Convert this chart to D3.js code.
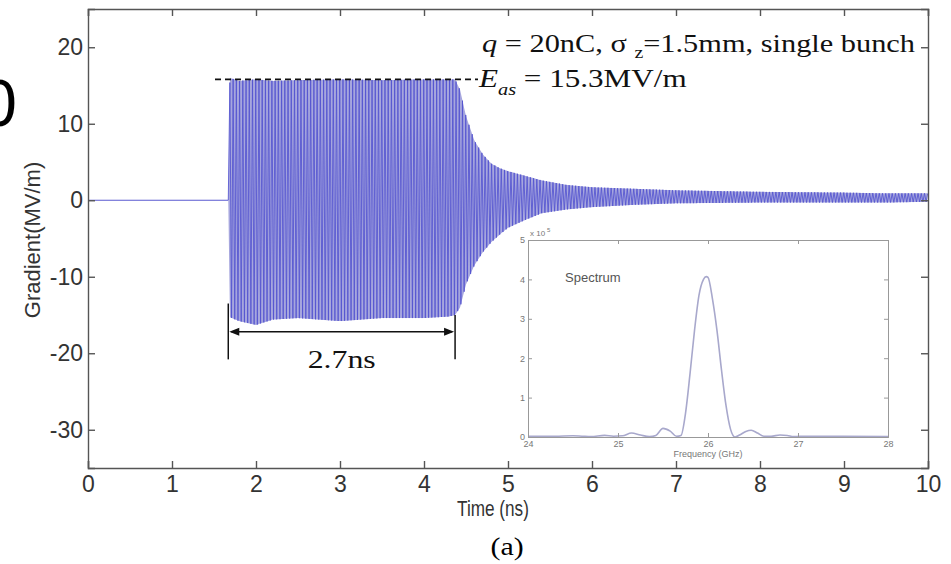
<!DOCTYPE html>
<html>
<head>
  <meta charset="utf-8">
  <title>Gradient vs time</title>
  <script src="https://cdn.jsdelivr.net/npm/d3@7"></script>
  <style>
    body { margin: 0; background: #fff; }
    svg { display: block; }
    .tick text { font-family: 'Liberation Sans', Arial, sans-serif; fill: #333; }
  </style>
</head>
<body>
<div id="chart"></div>
<script>
  // carrier frequency of the wake field (GHz)
  var carrierGHz = 26;

  // envelope of the gradient trace (ns, MV/m)
  var envTime  = [1.67, 1.69, 1.8, 2.0, 2.2, 2.5, 3.0, 3.5, 4.0, 4.3, 4.37, 4.43, 4.5, 4.6, 4.7, 4.8, 4.9, 5.0, 5.2, 5.4, 5.7, 6.0, 6.5, 7.0, 7.5, 8.0, 8.5, 9.0, 9.5, 10];
  var envUpper = [0, 16, 15.6, 15.8, 15.6, 15.7, 15.8, 15.7, 15.8, 15.8, 15.8, 14.4, 11, 7.8, 6, 4.8, 4.2, 3.8, 3.2, 2.6, 2.0, 1.7, 1.5, 1.3, 1.2, 1.1, 1.05, 1.0, 0.9, 0.9];
  var envLower = [0, -15.3, -15.8, -16.3, -15.6, -15.4, -15.8, -15.4, -15.4, -15.2, -15.0, -14, -11, -8.5, -6.8, -5.5, -4.5, -3.6, -2.6, -1.7, -1.2, -0.9, -0.6, -0.4, -0.35, -0.3, -0.3, -0.3, -0.3, -0.2];

  var xTicks = [0, 1, 2, 3, 4, 5, 6, 7, 8, 9, 10];
  var yTicks = [-30, -20, -10, 0, 10, 20];

  var Eas = 15.8;          // level of the dashed line
  var pulseStart = 1.67, pulseEnd = 4.37;

  // inset spectrum (GHz, x 1e5)
  var specFreq = [24.0, 24.3, 24.5, 24.6, 24.7, 24.85, 24.95, 25.05, 25.15, 25.25, 25.35, 25.42, 25.5, 25.58, 25.65, 25.7, 25.75, 25.8, 25.85, 25.9, 25.95, 25.98, 26.0, 26.05, 26.1, 26.15, 26.2, 26.25, 26.3, 26.35, 26.42, 26.48, 26.55, 26.62, 26.7, 26.8, 26.88, 26.95, 27.1, 27.5, 28.0];
  var specAmp  = [0.02, 0.02, 0.03, 0.02, 0.01, 0.04, 0.02, 0.03, 0.1, 0.05, 0.01, 0.04, 0.22, 0.15, 0.02, 0.04, 0.6, 1.6, 2.7, 3.6, 4.0, 4.07, 4.05, 3.5, 2.7, 1.7, 0.8, 0.2, 0.0, 0.05, 0.14, 0.17, 0.1, 0.02, 0.02, 0.05, 0.04, 0.01, 0.02, 0.02, 0.01];
  var specXTicks = [24, 25, 26, 27, 28];
  var specYTicks = [0, 1, 2, 3, 4, 5];

  var width = 951, height = 564;
  var sans = "'Liberation Sans', Arial, sans-serif";
  var serif = "'Liberation Serif', 'Times New Roman', serif";
  var plain = function(d) { return String(d); };

  var svg = d3.select("#chart").append("svg")
    .attr("width", width)
    .attr("height", height);

  var x = d3.scaleLinear().domain([0, 10]).range([88, 928]);
  var y = d3.scaleLinear().domain([-35, 25]).range([468, 9]);

  var upper = d3.scaleLinear().domain(envTime).range(envUpper);
  var lower = d3.scaleLinear().domain(envTime).range(envLower);

  // cut-off label from the neighbouring figure
  svg.append("text")
    .attr("x", 17).attr("y", 126)
    .attr("text-anchor", "end")
    .style("font-family", sans)
    .style("font-size", "66px")
    .text("0");

  // trace: flat before the bunch, then oscillation between the envelopes
  svg.append("path")
    .attr("d", d3.line()([[x(0), y(0)], [x(pulseStart), y(0)]]))
    .attr("fill", "none")
    .attr("stroke", "#5a5ad0")
    .attr("stroke-width", 1.2);

  svg.append("path")
    .datum(d3.range(pulseStart, 10, 0.01))
    .attr("d", d3.area()
      .x(function(t) { return x(t); })
      .y0(function(t) { return y(lower(t)); })
      .y1(function(t) { return y(upper(t)); }))
    .attr("fill", "#a6a6de");

  var half = 1 / carrierGHz / 2;
  var peaks = d3.range(pulseStart + half, 10, half).map(function(t, i) {
    return [x(t), y(i % 2 === 0 ? upper(t) : lower(t))];
  });
  peaks.unshift([x(pulseStart), y(0)]);
  svg.append("path")
    .attr("d", d3.line()(peaks))
    .attr("fill", "none")
    .attr("stroke", "#5454d0")
    .attr("stroke-width", 0.85);

  // axes box, matlab style ticks inside
  var axisColor = "#555";
  var xb = svg.append("g").attr("transform", "translate(0," + y(-35) + ")")
    .call(d3.axisBottom(x).tickValues(xTicks).tickSize(-7).tickPadding(8).tickFormat(plain));
  var xt = svg.append("g").attr("transform", "translate(0," + y(25) + ")")
    .call(d3.axisTop(x).tickValues(xTicks).tickSize(-7).tickFormat(""));
  var yl = svg.append("g").attr("transform", "translate(" + x(0) + ",0)")
    .call(d3.axisLeft(y).tickValues(yTicks).tickSize(-7).tickPadding(5).tickFormat(plain));
  var yr = svg.append("g").attr("transform", "translate(" + x(10) + ",0)")
    .call(d3.axisRight(y).tickValues(yTicks).tickSize(-7).tickFormat(""));
  [xb, xt, yl, yr].forEach(function(g) {
    g.selectAll("path, line").attr("stroke", axisColor).attr("stroke-width", 1.4);
    g.selectAll("text").style("font-size", "23px");
  });

  svg.append("text")
    .attr("transform", "translate(40,240) rotate(-90)")
    .attr("text-anchor", "middle")
    .style("font-family", sans)
    .style("font-size", "22px")
    .style("fill", "#333")
    .text("Gradient(MV/m)");

  svg.append("text")
    .attr("transform", "translate(493,516) scale(0.78,1)")
    .attr("text-anchor", "middle")
    .style("font-family", sans)
    .style("font-size", "22px")
    .style("fill", "#333")
    .text("Time (ns)");

  svg.append("text")
    .attr("transform", "translate(507,555) scale(1.15,1)")
    .attr("text-anchor", "middle")
    .style("font-family", serif)
    .style("font-size", "26px")
    .text("(a)");

  // E_as dashed level
  svg.append("line")
    .attr("x1", 215).attr("x2", 478)
    .attr("y1", y(Eas)).attr("y2", y(Eas))
    .attr("stroke", "#111")
    .attr("stroke-width", 1.8)
    .attr("stroke-dasharray", "6,4");

  // annotation text, drawn wide like the reference
  var t1 = svg.append("text")
    .attr("transform", "translate(482,52) scale(1.24,1)")
    .style("font-family", serif)
    .style("font-size", "24.5px")
    .style("fill", "#111");
  t1.append("tspan").style("font-style", "italic").text("q");
  t1.append("tspan").text(" = 20nC, \u03c3 ");
  t1.append("tspan").attr("dy", 6).style("font-size", "16px").text("z");
  t1.append("tspan").attr("dy", -6).text("=1.5mm, single bunch");

  var t2 = svg.append("text")
    .attr("transform", "translate(479,87) scale(1.27,1)")
    .style("font-family", serif)
    .style("font-size", "24.5px")
    .style("fill", "#111");
  t2.append("tspan").style("font-style", "italic").text("E");
  t2.append("tspan").attr("dy", 8).style("font-style", "italic").style("font-size", "16px").text("as");
  t2.append("tspan").attr("dy", -8).text(" = 15.3MV/m");

  // 2.7 ns bracket
  var bracket = svg.append("g").attr("stroke", "#111").attr("stroke-width", 1.5);
  bracket.append("line").attr("x1", x(pulseStart)).attr("x2", x(pulseStart)).attr("y1", y(-13.5)).attr("y2", y(-20.8));
  bracket.append("line").attr("x1", x(pulseEnd)).attr("x2", x(pulseEnd)).attr("y1", y(-15)).attr("y2", y(-20.8));
  bracket.append("line").attr("x1", x(pulseStart) + 3).attr("x2", x(pulseEnd) - 3).attr("y1", y(-17.2)).attr("y2", y(-17.2));
  var ay = y(-17.2);
  svg.append("path")
    .attr("d", "M" + (x(pulseStart) + 1) + "," + ay + "l10,-4l0,8z M" + (x(pulseEnd) - 1) + "," + ay + "l-10,-4l0,8z")
    .attr("fill", "#111");
  svg.append("text")
    .attr("transform", "translate(" + x((pulseStart + pulseEnd) / 2) + ",368) scale(1.3,1)")
    .attr("text-anchor", "middle")
    .style("font-family", serif)
    .style("font-size", "24.5px")
    .style("fill", "#111")
    .text("2.7ns");

  // inset spectrum
  var sx = d3.scaleLinear().domain([24, 28]).range([528, 888]);
  var sy = d3.scaleLinear().domain([0, 5]).range([437, 240]);
  var inset = svg.append("g");
  inset.append("rect")
    .attr("x", 528).attr("y", 240).attr("width", 360).attr("height", 197)
    .attr("fill", "#fff");
  inset.append("path")
    .datum(d3.zip(specFreq, specAmp))
    .attr("d", d3.line().x(function(d) { return sx(d[0]); }).y(function(d) { return sy(d[1]); }).curve(d3.curveMonotoneX))
    .attr("fill", "none")
    .attr("stroke", "#a8a8cc")
    .attr("stroke-width", 1.6);
  var ic = "#999";
  var ib = inset.append("g").attr("transform", "translate(0,437)")
    .call(d3.axisBottom(sx).tickValues(specXTicks).tickSize(-4).tickPadding(4).tickFormat(plain));
  var it = inset.append("g").attr("transform", "translate(0,240)")
    .call(d3.axisTop(sx).tickValues(specXTicks).tickSize(-4).tickFormat(""));
  var il = inset.append("g").attr("transform", "translate(528,0)")
    .call(d3.axisLeft(sy).tickValues(specYTicks).tickSize(-4).tickPadding(3).tickFormat(plain));
  var ir = inset.append("g").attr("transform", "translate(888,0)")
    .call(d3.axisRight(sy).tickValues(specYTicks).tickSize(-4).tickFormat(""));
  [ib, it, il, ir].forEach(function(g) {
    g.selectAll("path, line").attr("stroke", ic).attr("stroke-width", 1);
    g.selectAll("text").style("font-size", "9px").style("fill", "#777");
  });
  inset.append("text")
    .attr("x", 530).attr("y", 236)
    .style("font-family", sans)
    .style("font-size", "8px").style("fill", "#777")
    .text("x 10");
  inset.append("text")
    .attr("x", 547).attr("y", 232)
    .style("font-family", sans)
    .style("font-size", "6px").style("fill", "#777")
    .text("5");
  inset.append("text")
    .attr("x", 565).attr("y", 282)
    .style("font-family", sans)
    .style("font-size", "13px").style("fill", "#555")
    .text("Spectrum");
  inset.append("text")
    .attr("x", sx(26)).attr("y", 457)
    .attr("text-anchor", "middle")
    .style("font-family", sans)
    .style("font-size", "9px").style("fill", "#777")
    .text("Frequency (GHz)");
</script>
</body>
</html>
